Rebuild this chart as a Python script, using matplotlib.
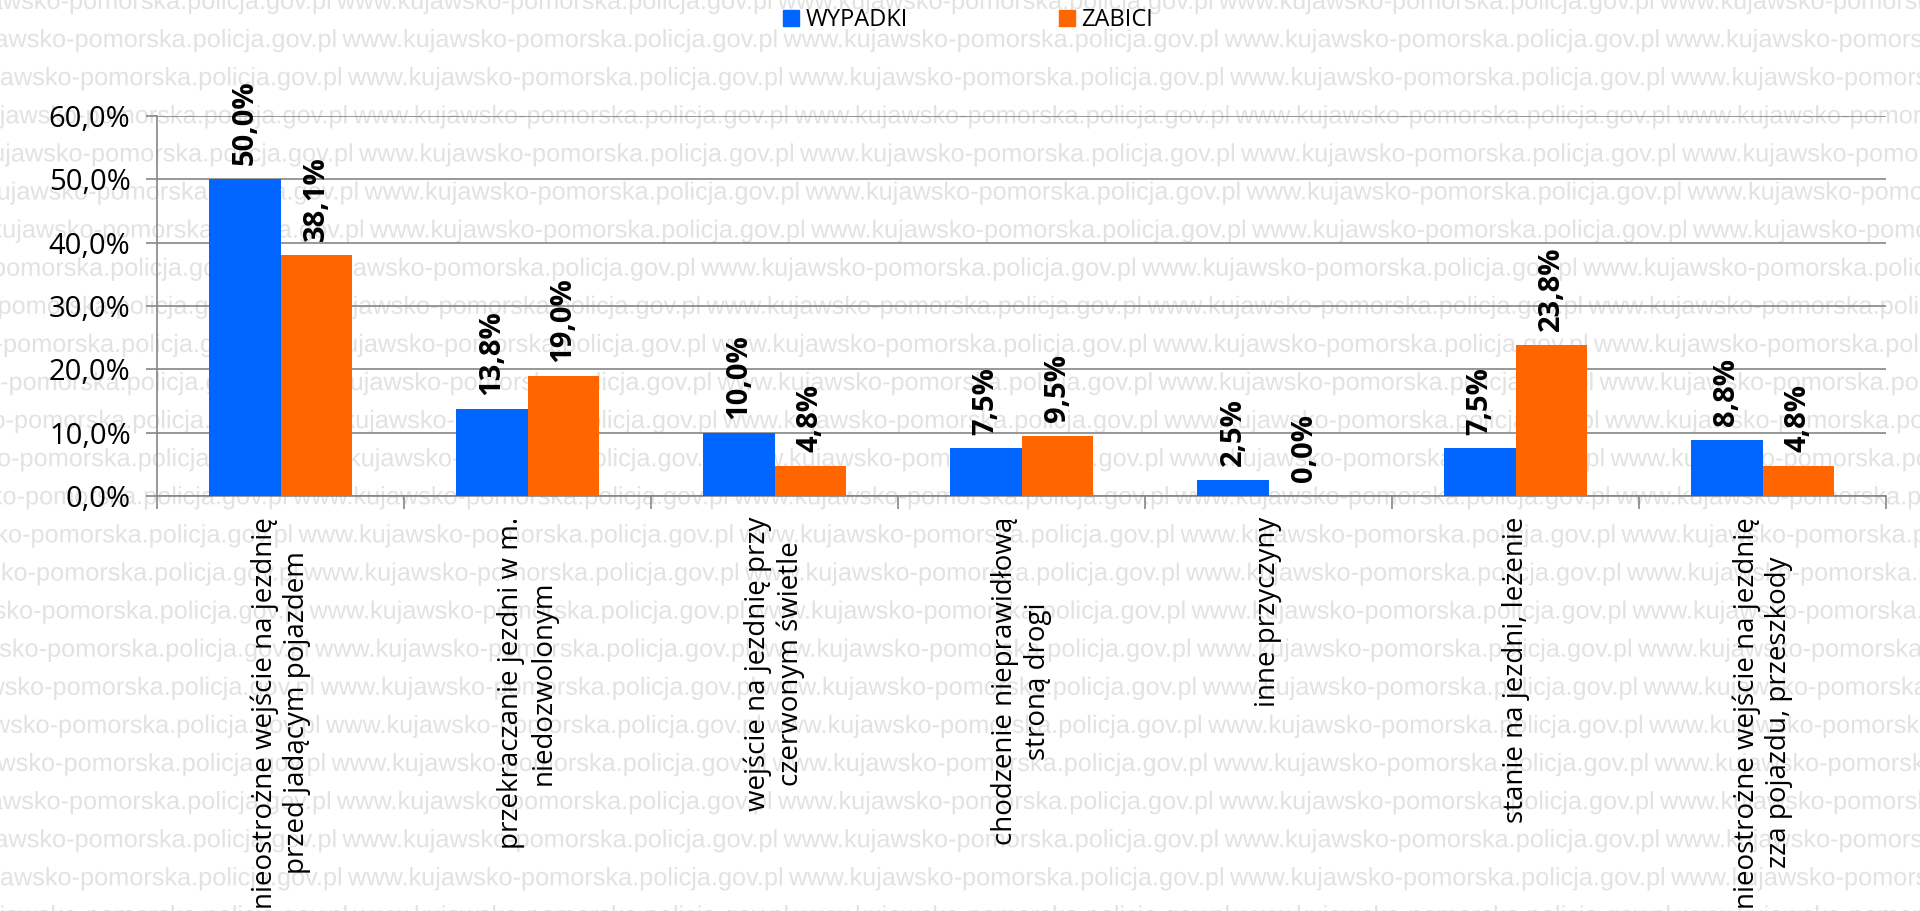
import matplotlib
matplotlib.use('Agg')
import matplotlib.pyplot as plt
import numpy as np
from matplotlib.textpath import TextPath
from matplotlib.patches import PathPatch, Patch
from matplotlib.font_manager import FontProperties
from matplotlib.transforms import Affine2D
from matplotlib.ticker import FuncFormatter

# data
categories = [
    "nieostrożne wejście na jezdnię\nprzed jadącym pojazdem",
    "przekraczanie jezdni w m.\nniedozwolonym",
    "wejście na jezdnię przy\nczerwonym świetle",
    "chodzenie nieprawidłową\nstroną drogi",
    "inne przyczyny",
    "stanie na jezdni, leżenie",
    "nieostrożne wejście na jezdnię\nzza pojazdu, przeszkody",
]
wypadki = [50.0, 13.8, 10.0, 7.5, 2.5, 7.5, 8.8]
zabici = [38.1, 19.0, 4.8, 9.5, 0.0, 23.8, 4.8]
series_names = ["WYPADKI", "ZABICI"]

BLUE = '#0066ff'
ORANGE = '#ff6600'
GRID = '#868686'

plt.rcParams['font.family'] = ['Open Sans', 'DejaVu Sans']

W, H = 1920, 911
fig = plt.figure(figsize=(19.2, 9.11), dpi=100)


def pct(v):
    return f"{v:.1f}%".replace('.', ',')


# background watermark (rows of repeated site address)
wm_path = TextPath((0, 0), "www.kujawsko-pomorska.policja.gov.pl", size=25,
                   prop=FontProperties(family='Liberation Sans'))
period = 441
ext = wm_path.get_extents()
sx = (period - 7) / ext.width
for i in range(25):
    base_y = 9 + 38.1 * i
    x0 = 337 + 5.5 * i if i <= 6 else 271 + 5.5 * (i - 9)
    x0 = x0 % period - period
    for k in range(7):
        tr = Affine2D().scale(sx, 1).translate(x0 + k * period, H - base_y)
        fig.add_artist(PathPatch(wm_path, transform=tr, facecolor='#e2e2e2',
                                 edgecolor='none', zorder=-5))

ax = fig.add_axes([157 / W, 1 - 496 / H, (1886 - 157) / W, (496 - 116) / H])
ax.patch.set_visible(False)

x = np.arange(len(categories))
w = 0.2875
b1 = ax.bar(x - w / 2, wypadki, w, color=BLUE, zorder=3)
b2 = ax.bar(x + w / 2, zabici, w, color=ORANGE, zorder=3)

for bars, vals in ((b1, wypadki), (b2, zabici)):
    for rect, v in zip(bars, vals):
        ax.annotate(pct(v), (rect.get_x() + rect.get_width() / 2, v),
                    xytext=(0, 10), textcoords='offset points',
                    rotation=90, ha='center', va='bottom',
                    fontsize=21, fontweight='bold', zorder=4)

ax.set_xlim(-0.5, len(categories) - 0.5)
ax.set_ylim(0, 60)
ax.set_yticks(np.arange(0, 61, 10))
ax.yaxis.set_major_formatter(FuncFormatter(lambda v, p: pct(v)))
ax.grid(axis='y', color=GRID, lw=1.2, zorder=0)
ax.set_axisbelow(True)

for s in ('top', 'right'):
    ax.spines[s].set_visible(False)
for s in ('left', 'bottom'):
    ax.spines[s].set_color(GRID)
    ax.spines[s].set_linewidth(1.2)

ax.set_xticks(x)
ax.set_xticklabels(categories, rotation=90, fontsize=20)
ax.set_xticks(np.arange(-0.5, len(categories)), minor=True)
ax.tick_params(axis='x', which='major', length=0, pad=15)
ax.tick_params(axis='x', which='minor', length=9, color=GRID, width=1.2)
ax.tick_params(axis='y', length=8, color=GRID, width=1.2, pad=11, labelsize=21)

fig.legend(handles=[Patch(color=BLUE), Patch(color=ORANGE)], labels=series_names,
           loc='center', bbox_to_anchor=(968 / W, 1 - 20 / H), ncol=2,
           frameon=False, fontsize=17, handlelength=0.68, handleheight=0.68,
           handletextpad=0.25, columnspacing=6.4, borderaxespad=0)

fig.savefig('out.png', dpi=100)
